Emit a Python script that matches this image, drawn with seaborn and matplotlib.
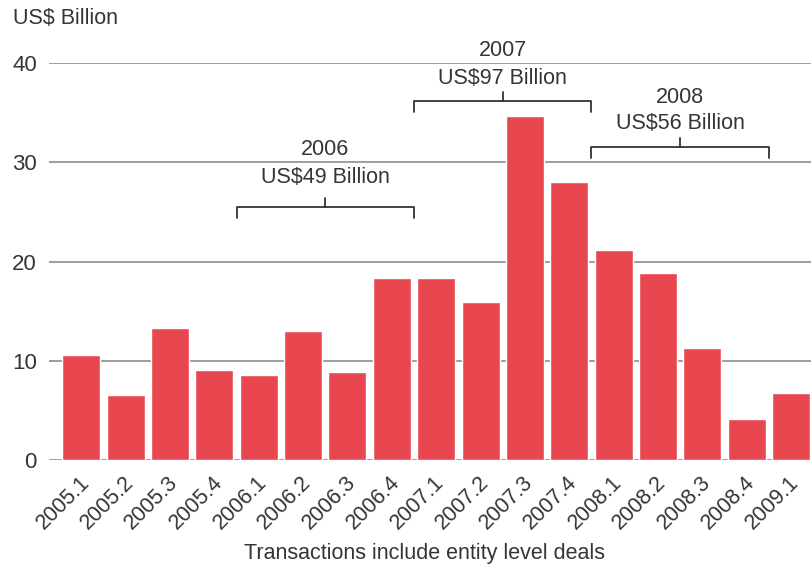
import matplotlib
matplotlib.use("Agg")
import matplotlib.pyplot as plt
import matplotlib.transforms as mtransforms
import seaborn as sns
import pandas as pd

# Quarterly transaction volume, US$ billion
quarters = ["2005.1", "2005.2", "2005.3", "2005.4",
            "2006.1", "2006.2", "2006.3", "2006.4",
            "2007.1", "2007.2", "2007.3", "2007.4",
            "2008.1", "2008.2", "2008.3", "2008.4",
            "2009.1"]
volumes = [10.6, 6.6, 13.3, 9.1,
           8.6, 13.0, 8.9, 18.4,
           18.4, 15.9, 34.7, 28.0,
           21.2, 18.9, 11.3, 4.15,
           6.8]

# Annual totals shown above brackets
years = ["2006", "2007", "2008"]
year_totals = ["US$49 Billion", "US$97 Billion", "US$56 Billion"]
y_ticks = [0, 10, 20, 30, 40]
y_unit = "US$ Billion"
footnote = "Transactions include entity level deals"

sns.set_theme(style="white")
plt.rcParams["font.family"] = ["Liberation Sans", "DejaVu Sans"]
text_color = "#353535"
bar_color = "#E9474F"
grid_color = "#9d9d9d"
fs = 15.5

df = pd.DataFrame({"quarter": quarters, "volume": volumes})

fig = plt.figure(figsize=(8.12, 5.67), dpi=100)
ax = fig.add_axes([0.0607, 0.1887, 0.9393, 0.6997])

sns.barplot(data=df, x="quarter", y="volume", color=bar_color,
            width=0.856, saturation=1, ax=ax, zorder=3)

ax.set_ylim(0, 40)
ax.set_xlim(-0.72, 16.47)
ax.set_yticks(y_ticks)
ax.set_yticklabels([str(t) for t in y_ticks])
ax.yaxis.grid(True, color=grid_color, linewidth=1.4, zorder=0)
ax.xaxis.grid(False)
for s in ax.spines.values():
    s.set_visible(False)
ax.set_axisbelow(True)
ax.set_xlabel("")
ax.set_ylabel("")
ax.tick_params(axis="y", length=0, pad=9, labelsize=16, labelcolor=text_color)
ax.tick_params(axis="x", length=0, pad=14, labelsize=15.5, labelcolor=text_color)
shift = mtransforms.ScaledTranslation(5 / 100, 0, fig.dpi_scale_trans)
for lab in ax.get_xticklabels():
    lab.set_rotation(45)
    lab.set_ha("right")
    lab.set_va("center")
    lab.set_rotation_mode("anchor")
    lab.set_transform(lab.get_transform() + shift)

# Year brackets: (first quarter index, bracket height, total label height, year label height)
bracket_specs = [
    (4, 25.5, 28.5, 31.3),
    (8, 36.2, 38.5, 41.3),
    (12, 31.6, 33.95, 36.5),
]
for (start, yb, yt, yy), yr, tot in zip(bracket_specs, years, year_totals):
    x0, x1 = start - 0.5, start + 3.5
    xc = (x0 + x1) / 2
    ax.plot([x0, x0, x1, x1], [yb - 1.1, yb, yb, yb - 1.1],
            color="#333333", linewidth=1.3, clip_on=False, zorder=5)
    ax.plot([xc, xc], [yb, yb + 0.9], color="#333333", linewidth=1.3,
            clip_on=False, zorder=5)
    ax.text(xc, yt, tot, ha="center", va="center", fontsize=fs,
            color=text_color, clip_on=False)
    ax.text(xc, yy, yr, ha="center", va="center", fontsize=fs,
            color=text_color, clip_on=False)

fig.text(12.7 / 812, 1 - 18.3 / 567, y_unit, ha="left", va="center",
         fontsize=fs, color=text_color)
fig.text(425 / 812, 1 - 553 / 567, footnote, ha="center", va="center",
         fontsize=fs, color=text_color)

fig.savefig("out.png", dpi=100)
